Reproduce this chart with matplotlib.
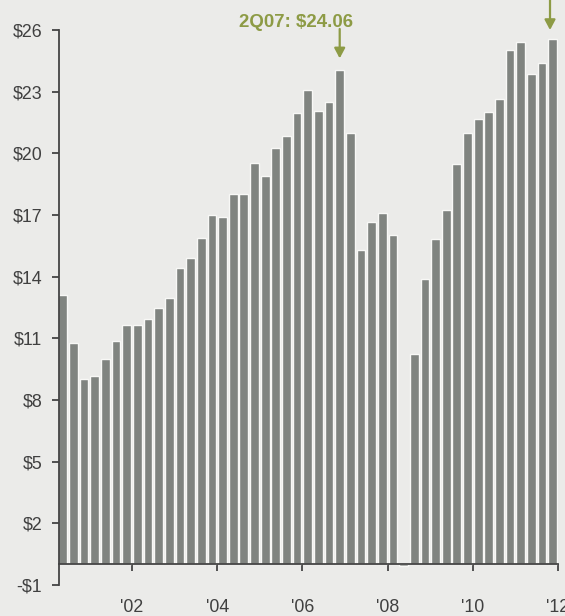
import matplotlib
matplotlib.use("Agg")
import matplotlib.pyplot as plt

plt.rcParams['font.family'] = ['Liberation Sans', 'DejaVu Sans']

# Quarterly values, 4Q00 .. 2Q12
quarters = ["4Q00"] + [f"{q}Q{y:02d}" for y in range(1, 12) for q in range(1, 5)] + ["1Q12", "2Q12"]
values = [13.10, 10.75, 9.00, 9.16, 9.98, 10.88, 11.64, 11.64, 11.93, 12.48,
          12.97, 14.43, 14.90, 15.88, 16.99, 16.92, 18.02, 18.02, 19.51, 18.88,
          20.26, 20.82, 21.98, 23.08, 22.06, 22.48, 24.06, 20.99, 15.28, 16.66,
          17.08, 16.05, -0.08, 10.23, 13.91, 15.85, 17.26, 19.48, 20.99, 21.69,
          22.03, 22.66, 25.01, 25.41, 23.84, 24.41, 25.56]
year_ticks = ["'02", "'04", "'06", "'08", "'10", "'12"]
year_mid_q = ["2Q02", "2Q04", "2Q06", "2Q08", "2Q10", "2Q12"]
y_ticks = [-1, 2, 5, 8, 11, 14, 17, 20, 23, 26]
highlight_q = "2Q07"
highlight_label = "2Q07: $24.06"

bg = '#ebebe9'
bar_col = '#808480'
olive = '#8d9b45'
axc = '#444444'

fig = plt.figure(figsize=(5.65, 6.16), dpi=100, facecolor=bg)
ax = fig.add_axes([59/565, 31/616, 499/565, 555/616])
ax.set_facecolor(bg)

x = list(range(len(values)))
ax.bar(x, values, width=0.82, color=bar_col, edgecolor='#f8f8f6', linewidth=1.0, zorder=2)

ax.set_xlim(-0.36, 46.5)
ax.set_ylim(-1, 26)

for s in ['top', 'right']:
    ax.spines[s].set_visible(False)
ax.spines['left'].set_color(axc)
ax.spines['left'].set_linewidth(1.3)
ax.spines['bottom'].set_position(('data', 0))
ax.spines['bottom'].set_color(axc)
ax.spines['bottom'].set_linewidth(1.3)
ax.spines['bottom'].set_zorder(3)

ax.set_yticks(y_ticks)
ax.set_yticklabels([f"${v}" if v >= 0 else f"-${-v}" for v in y_ticks])
tick_pos = [quarters.index(q) + 0.5 for q in year_mid_q]
ax.set_xticks(tick_pos)
ax.set_xticklabels(year_ticks)
ax.tick_params(axis='y', direction='out', length=5, width=1.3, color=axc,
               labelsize=12.8, labelcolor='#404040', pad=7)
ax.tick_params(axis='x', direction='out', length=5, width=1.3, color=axc,
               labelsize=12.8, labelcolor='#404040', pad=20)

hi = quarters.index(highlight_q)
ax.annotate('', xy=(hi, values[hi] + 0.56), xytext=(hi, 26.05),
            arrowprops=dict(arrowstyle='-|>,head_length=0.6,head_width=0.32',
                            color=olive, lw=1.6, shrinkA=0, shrinkB=0,
                            mutation_scale=10), annotation_clip=False)
ax.text(hi - 4.1, 26.37, highlight_label, color=olive, fontsize=13.4,
        fontweight='bold', ha='center', va='center', clip_on=False)

last = len(values) - 1
ax.annotate('', xy=(last - 0.25, 26.0), xytext=(last - 0.25, 28.0),
            arrowprops=dict(arrowstyle='-|>,head_length=0.6,head_width=0.32',
                            color=olive, lw=1.6, shrinkA=0, shrinkB=0,
                            mutation_scale=10), annotation_clip=False)

fig.savefig('out.png', dpi=100, facecolor=bg)
